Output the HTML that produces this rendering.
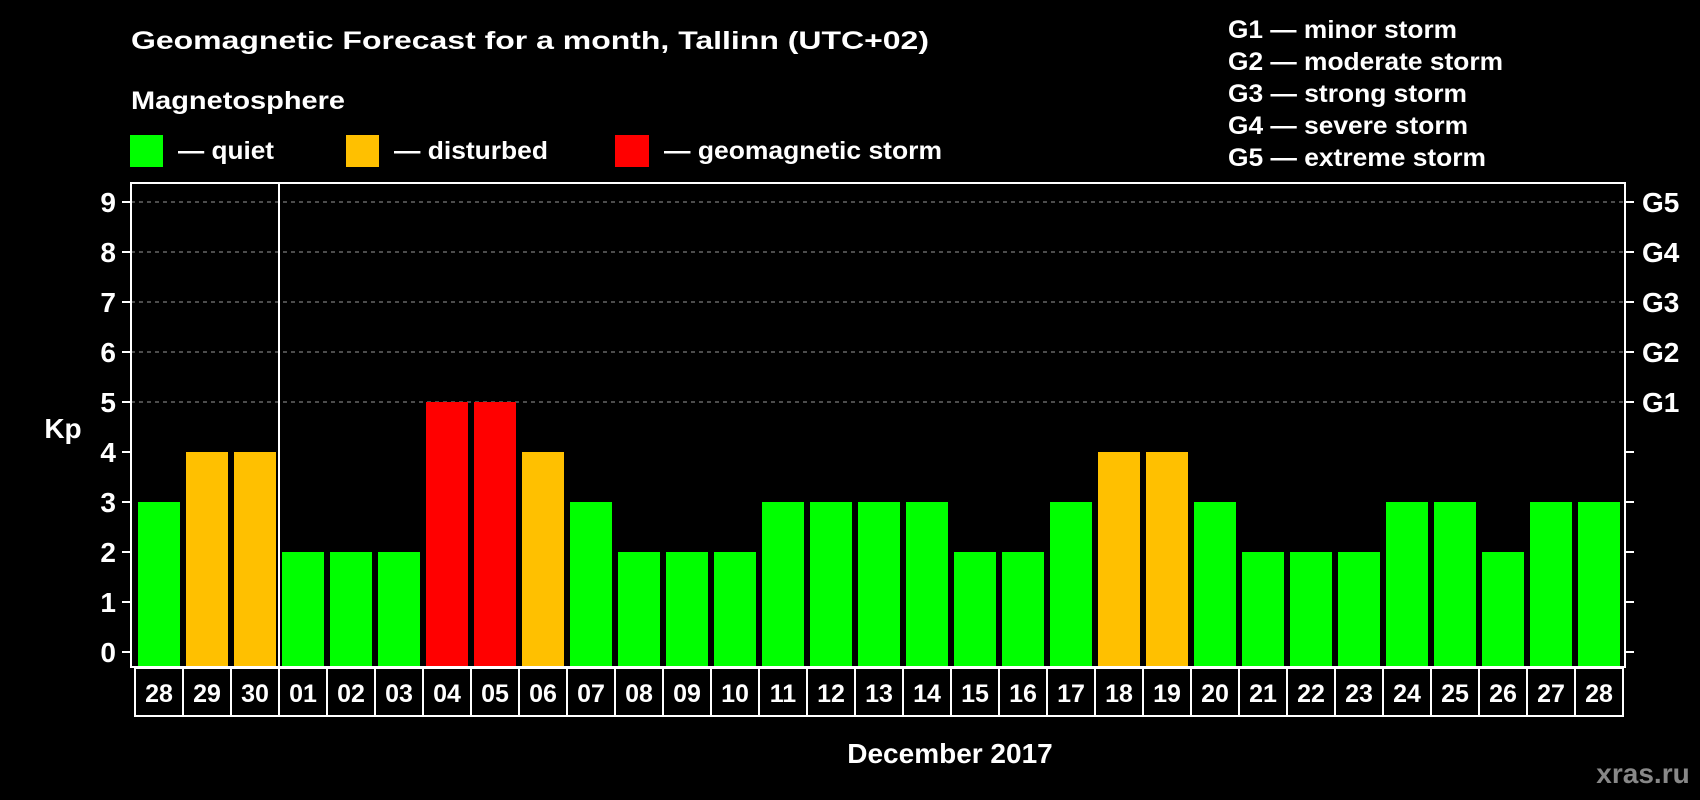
<!DOCTYPE html>
<html><head><meta charset="utf-8"><style>
html,body{margin:0;padding:0;background:#000;}
svg{display:block;font-family:"Liberation Sans",sans-serif;font-weight:bold;}
</style></head><body>
<svg id="chart" width="1700" height="800" viewBox="0 0 1700 800">
<rect x="0" y="0" width="1700" height="800" fill="#000"/>
<text x="131" y="49" fill="#fff" font-size="25" textLength="798" lengthAdjust="spacingAndGlyphs">Geomagnetic Forecast for a month, Tallinn (UTC+02)</text>
<text x="131" y="109" fill="#fff" font-size="25" textLength="214" lengthAdjust="spacingAndGlyphs">Magnetosphere</text>
<g>
<rect x="130" y="135" width="33" height="32" fill="#00ff00"/>
<text x="178" y="159" fill="#fff" font-size="25" textLength="96" lengthAdjust="spacingAndGlyphs">— quiet</text>
</g>
<g>
<rect x="346" y="135" width="33" height="32" fill="#ffc000"/>
<text x="394" y="159" fill="#fff" font-size="25" textLength="154" lengthAdjust="spacingAndGlyphs">— disturbed</text>
</g>
<g>
<rect x="615" y="135" width="34" height="32" fill="#ff0000"/>
<text x="664" y="159" fill="#fff" font-size="25" textLength="278" lengthAdjust="spacingAndGlyphs">— geomagnetic storm</text>
</g>
<g>
<text x="1228" y="38" fill="#fff" font-size="25" textLength="229" lengthAdjust="spacingAndGlyphs">G1 — minor storm</text>
<text x="1228" y="70" fill="#fff" font-size="25" textLength="275" lengthAdjust="spacingAndGlyphs">G2 — moderate storm</text>
<text x="1228" y="102" fill="#fff" font-size="25" textLength="239" lengthAdjust="spacingAndGlyphs">G3 — strong storm</text>
<text x="1228" y="134" fill="#fff" font-size="25" textLength="240" lengthAdjust="spacingAndGlyphs">G4 — severe storm</text>
<text x="1228" y="166" fill="#fff" font-size="25" textLength="258" lengthAdjust="spacingAndGlyphs">G5 — extreme storm</text>
</g>
<text x="63" y="438" fill="#fff" font-size="28" text-anchor="middle">Kp</text>
<text x="950" y="763" fill="#fff" font-size="28" text-anchor="middle">December 2017</text>
<text x="1643" y="783" fill="#888" font-size="28" text-anchor="middle">xras.ru</text>
<g id="plot"></g>
</svg>
<script>
const days = ["28","29","30","01","02","03","04","05","06","07","08","09","10","11","12","13","14","15","16","17","18","19","20","21","22","23","24","25","26","27","28"];
const kpValues = [3,4,4,2,2,2,5,5,4,3,2,2,2,3,3,3,3,2,2,3,4,4,3,2,2,2,3,3,2,3,3];
const yTicks = ["0","1","2","3","4","5","6","7","8","9"];
const gLabels = ["G1","G2","G3","G4","G5"];
const gLevels = [5,6,7,8,9];

const NS = "http://www.w3.org/2000/svg";
const plot = document.getElementById("plot");
const L = 131, R = 1625, T = 183, B = 667;
const slotW = 48, x0 = 135;
function y(v){ return 652 - 50*v; }
function slotX(i){ return x0 + slotW*i; }
function color(v){ return v >= 5 ? "#ff0000" : (v >= 4 ? "#ffc000" : "#00ff00"); }
function mk(tag, attrs){ const e = document.createElementNS(NS, tag); for (const k in attrs) e.setAttribute(k, attrs[k]); plot.appendChild(e); return e; }

// gridlines
for (let v = 5; v <= 9; v++) {
  const g = mk("line", {x1:L, x2:R, y1:y(v), y2:y(v), stroke:"#999", "stroke-width":1, "stroke-dasharray":"4,4"});
  
  
}
// bars
kpValues.forEach((v,i)=>{
  const b = mk("rect", {x:slotX(i)+3, y:y(v), width:42, height:y(0)-y(v)+15, fill:color(v)});
  
  
});
// frame
const fr = mk("rect", {x:L, y:T, width:R-L, height:B-T, fill:"none", stroke:"#fff", "stroke-width":2});


const sep = mk("line", {x1:slotX(3), x2:slotX(3), y1:T, y2:B, stroke:"#fff", "stroke-width":2});


// y ticks
yTicks.forEach((t,i)=>{
  const v = Number(t);
  const tl = mk("line", {x1:122, x2:L, y1:y(v), y2:y(v), stroke:"#fff", "stroke-width":2});
  
  
  const tr = mk("line", {x1:R, x2:1634, y1:y(v), y2:y(v), stroke:"#fff", "stroke-width":2});
  
  
  const lab = mk("text", {x:116, y:y(v)+10, fill:"#fff", "font-size":28, "text-anchor":"end"});
  lab.textContent = t;
  
  
});
gLabels.forEach((g,i)=>{
  const lab = mk("text", {x:1642, y:y(gLevels[i])+10, fill:"#fff", "font-size":28});
  lab.textContent = g;
  
  
});
// date boxes
days.forEach((d,i)=>{
  const bx = mk("rect", {x:slotX(i), y:B+1, width:slotW, height:48, fill:"#000", stroke:"#fff", "stroke-width":2});
  
  
  const t = mk("text", {x:slotX(i)+slotW/2, y:B+35, fill:"#fff", "font-size":25, "text-anchor":"middle"});
  t.textContent = d;
  
  
});
</script>
</body></html>
